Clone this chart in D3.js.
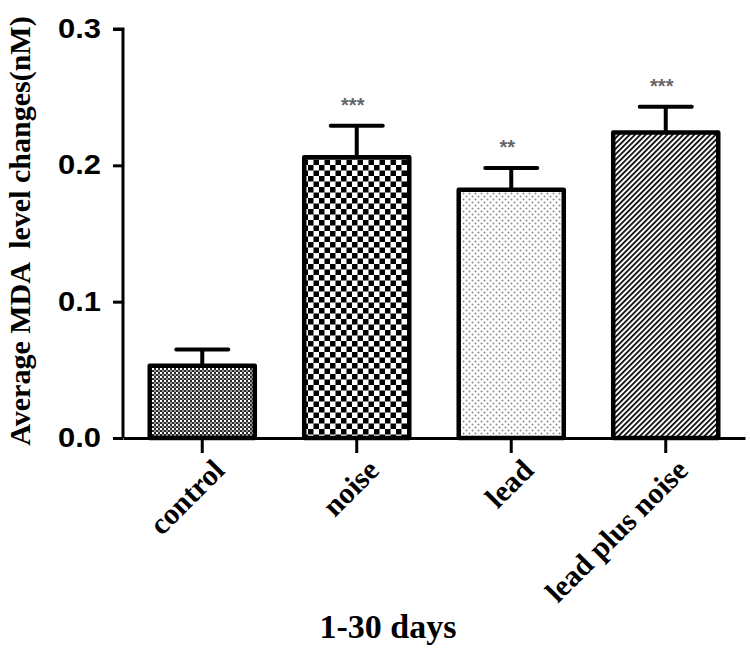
<!DOCTYPE html>
<html><head><meta charset="utf-8">
<script src="https://cdn.jsdelivr.net/npm/d3@7"></script>
<style>body{margin:0;background:#fff}svg{display:block}</style>
</head><body>
<svg id="chart" width="750" height="659"></svg>
<script>
const categories = ["control", "noise", "lead", "lead plus noise"];
const means = [0.053, 0.206, 0.182, 0.224];
const errors = [0.012, 0.023, 0.016, 0.019];
const significance = ["", "***", "**", "***"];
const yTicks = [0.0, 0.1, 0.2, 0.3];
const patterns = ["pControl", "pNoise", "pLead", "pLpn"];

const svg = d3.select("#chart");
const x0 = 123, x1 = 745, yBase = 438, yTop = 29;

const defs = svg.append("defs");
// control: fine dotted checker
let p = defs.append("pattern").attr("id","pControl").attr("patternUnits","userSpaceOnUse").attr("width",4).attr("height",4);
p.append("rect").attr("width",4).attr("height",4).attr("fill","#2a2a2a");
p.append("rect").attr("width",2).attr("height",2).attr("fill","#fff");
p.append("rect").attr("x",2).attr("y",2).attr("width",2).attr("height",2).attr("fill","#9a9a9a");
// noise: checkerboard
p = defs.append("pattern").attr("id","pNoise").attr("patternUnits","userSpaceOnUse").attr("width",11).attr("height",11);
p.append("rect").attr("width",11).attr("height",11).attr("fill","#fff");
p.append("rect").attr("width",5.5).attr("height",5.5).attr("fill","#000");
p.append("rect").attr("x",5.5).attr("y",5.5).attr("width",5.5).attr("height",5.5).attr("fill","#000");
// lead: light grey dots
p = defs.append("pattern").attr("id","pLead").attr("patternUnits","userSpaceOnUse").attr("width",6).attr("height",6);
p.append("rect").attr("width",6).attr("height",6).attr("fill","#fff");
p.append("circle").attr("cx",1.5).attr("cy",1.5).attr("r",1).attr("fill","#8a8a8a");
p.append("circle").attr("cx",4.5).attr("cy",4.5).attr("r",1).attr("fill","#8a8a8a");
// lead plus noise: diagonal hatch
p = defs.append("pattern").attr("id","pLpn").attr("patternUnits","userSpaceOnUse").attr("width",3.8).attr("height",3.8).attr("patternTransform","rotate(45)");
p.append("rect").attr("width",3.8).attr("height",3.8).attr("fill","#fff");
p.append("rect").attr("width",1.7).attr("height",3.8).attr("fill","#000");

const x = d3.scaleBand().domain(categories).range([x0, x1]).paddingInner(0.32).paddingOuter(0.173);
const y = d3.scaleLinear().domain([0, 0.3]).range([yBase, yTop]);

// bars
svg.append("g").selectAll("rect").data(categories).join("rect")
  .attr("x", d => x(d)).attr("y", (d,i) => y(means[i]))
  .attr("width", x.bandwidth()).attr("height", (d,i) => yBase - y(means[i]))
  .attr("fill", (d,i) => `url(#${patterns[i]})`)
  .attr("stroke", "#000").attr("stroke-width", 4.5).attr("stroke-linejoin","round");

// error bars
const eg = svg.append("g").attr("stroke","#000").attr("stroke-width",4).attr("stroke-linecap","round");
categories.forEach((c,i) => {
  const cx = x(c) + x.bandwidth()/2;
  eg.append("line").attr("x1",cx).attr("x2",cx).attr("y1",y(means[i])).attr("y2",y(means[i]+errors[i])).attr("stroke-linecap","butt");
  eg.append("line").attr("x1",cx-26).attr("x2",cx+26).attr("y1",y(means[i]+errors[i])).attr("y2",y(means[i]+errors[i]));
});

// significance
svg.append("g").selectAll("text").data(categories).join("text")
  .attr("x", d => x(d) + x.bandwidth()/2 - 4)
  .attr("y", (d,i) => y(means[i]+errors[i]) - 14)
  .attr("text-anchor","middle")
  .attr("font-family","Liberation Sans, Arial, sans-serif").attr("font-weight","bold")
  .attr("font-size",20).attr("fill","#666")
  .text((d,i) => significance[i]);

// y axis
const yAxis = d3.axisLeft(y).tickValues(yTicks).tickFormat(d3.format(".1f")).tickSize(10).tickPadding(12);
const ya = svg.append("g").attr("transform",`translate(${x0},0)`).call(yAxis);
ya.select(".domain").attr("stroke","#000").attr("stroke-width",3).attr("d",`M-10,${yTop}H0V${yBase}`);
ya.selectAll(".tick line").attr("stroke","#000").attr("stroke-width",3);
ya.selectAll(".tick text").attr("font-family","Liberation Sans, Arial, sans-serif").attr("font-weight","bold").attr("font-size",27).attr("fill","#000")
  .attr("textLength",43).attr("lengthAdjust","spacingAndGlyphs");

// x axis
const xAxis = d3.axisBottom(x).tickSize(15).tickSizeOuter(0);
const xa = svg.append("g").attr("transform",`translate(0,${yBase})`).call(xAxis);
xa.select(".domain").attr("stroke","#000").attr("stroke-width",3);
xa.selectAll(".tick line").attr("stroke","#000").attr("stroke-width",3);
xa.selectAll(".tick text")
  .attr("font-family","Liberation Serif, Times New Roman, serif").attr("font-weight","bold").attr("font-size",30).attr("fill","#000")
  .attr("text-anchor","end").attr("dy",null).attr("y",0)
  .attr("transform","translate(24,34) rotate(-45)");

// axis titles
svg.append("text").attr("x",388).attr("y",638).attr("text-anchor","middle")
  .attr("font-family","Liberation Serif, Times New Roman, serif").attr("font-weight","bold").attr("font-size",34)
  .text("1-30 days");
svg.append("text").attr("transform","translate(30,231) rotate(-90)").attr("text-anchor","middle")
  .attr("font-family","Liberation Serif, Times New Roman, serif").attr("font-weight","bold").attr("font-size",30)
  .attr("xml:space","preserve")
  .text("Average MDA  level changes(nM)");
</script>
</body></html>
